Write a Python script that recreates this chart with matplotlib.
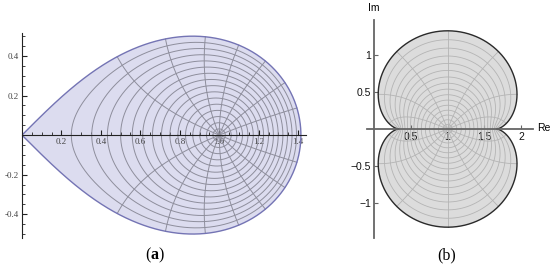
import numpy as np
import matplotlib
matplotlib.use("Agg")
import matplotlib.pyplot as plt

plt.rcParams["mathtext.fontset"] = "custom"
plt.rcParams["mathtext.rm"] = "Liberation Serif"
plt.rcParams["mathtext.bf"] = "Liberation Serif:bold"

# ---- data ----
mesh_radii = [1/16, 2/16, 3/16, 4/16, 5/16, 6/16, 7/16, 8/16,
              9/16, 10/16, 11/16, 12/16, 13/16, 14/16, 15/16]
mesh_angles_deg = [0, 22.5, 45, 67.5, 90, 112.5, 135, 157.5,
                   180, 202.5, 225, 247.5, 270, 292.5, 315, 337.5]
a_xticks = [0.2, 0.4, 0.6, 0.8, 1.0, 1.2, 1.4]
a_xtick_labels = ["0.2", "0.4", "0.6", "0.8", "1.0", "1.2", "1.4"]
a_yticks = [-0.4, -0.2, 0.2, 0.4]
a_ytick_labels = ["-0.4", "-0.2", "0.2", "0.4"]
b_xticks = [0.5, 1, 1.5, 2]
b_xtick_labels = ["0.5", "1", "1.5", "2"]
b_yticks = [-1, -0.5, 0.5, 1]
b_ytick_labels = ["\u22121", "\u22120.5", "0.5", "1"]


def f_lemniscate(z):
    return np.sqrt(1 + z)


def f_nephroid(z):
    return 1 + z - z**3 / 3


def draw_region(ax, f, fill, edge, mesh_color, mesh_lw, edge_lw):
    t = np.linspace(-np.pi, np.pi, 2001)
    b = f(np.exp(1j * t))
    ax.fill(b.real, b.imag, color=fill, zorder=1, lw=0)
    for r in mesh_radii:
        w = f(r * np.exp(1j * t))
        ax.plot(w.real, w.imag, color=mesh_color, lw=mesh_lw, zorder=2)
    rr = np.linspace(0, 1, 400)
    for a in mesh_angles_deg:
        w = f(rr * np.exp(1j * np.deg2rad(a)))
        ax.plot(w.real, w.imag, color=mesh_color, lw=mesh_lw, zorder=2)
    ax.plot(b.real, b.imag, color=edge, lw=edge_lw, zorder=3)


fig = plt.figure(figsize=(5.5, 2.67), dpi=100)

# ---- panel (a) ----
axa = fig.add_axes([22/550, 29/267, 284/550, 205/267])
draw_region(axa, f_lemniscate, "#dcdcef", "#7474b4", "#8e8e9c", 0.7, 1.0)
axa.set_xlim(0, 1.44)
axa.set_ylim(-0.52, 0.516)
for s in ["top", "right"]:
    axa.spines[s].set_visible(False)
axa.spines["left"].set_position(("data", 0))
axa.spines["bottom"].set_position(("data", 0))
axa.spines["left"].set_zorder(5)
axa.spines["bottom"].set_zorder(5)
axa.spines["left"].set_color("#222222")
axa.spines["bottom"].set_color("#222222")
axa.set_xticks(a_xticks)
axa.set_xticklabels(a_xtick_labels)
axa.set_yticks(a_yticks)
axa.set_yticklabels(a_ytick_labels)
axa.set_xticks(np.arange(0.05, 1.44, 0.05), minor=True)
axa.set_yticks(np.arange(-0.5, 0.52, 0.05), minor=True)
axa.tick_params(which="major", direction="in", length=3.5, width=0.8,
                labelsize=6.5, labelcolor="#444444", color="#222222", pad=2)
axa.tick_params(which="minor", direction="in", length=2, width=0.6,
                color="#222222")
for lab in axa.get_xticklabels() + axa.get_yticklabels():
    lab.set_family("Liberation Serif")
axa.patch.set_alpha(0)

# ---- panel (b) ----
axb = fig.add_axes([367/550, 29/267, 166/550, 218/267])
draw_region(axb, f_nephroid, "#dcdcdc", "#2a2a2a", "#b4b4b4", 0.6, 1.0)
axb.set_xlim(-0.095, 2.16)
axb.set_ylim(-1.48, 1.48)
for s in ["top", "right"]:
    axb.spines[s].set_visible(False)
axb.spines["left"].set_position(("data", 0))
axb.spines["bottom"].set_position(("data", 0))
axb.spines["left"].set_zorder(5)
axb.spines["bottom"].set_zorder(5)
axb.spines["left"].set_color("#666666")
axb.spines["bottom"].set_color("#666666")
axb.spines["left"].set_linewidth(1.3)
axb.spines["bottom"].set_linewidth(1.3)
axb.set_xticks(b_xticks)
axb.set_xticklabels(b_xtick_labels)
axb.set_yticks(b_yticks)
axb.set_yticklabels(b_ytick_labels)
axb.tick_params(which="major", direction="in", length=3, width=0.8,
                labelsize=7.5, labelcolor="#111111", color="#666666", pad=2)
for lab in axb.get_xticklabels() + axb.get_yticklabels():
    lab.set_family("Liberation Sans")
axb.patch.set_alpha(0)
axb.text(0.0, 1.64, "Im", ha="center", va="center", fontsize=7.5,
         family="Liberation Sans", clip_on=False)
axb.text(2.22, 0.02, "Re", ha="left", va="center", fontsize=7.5,
         family="Liberation Sans", clip_on=False)

# ---- captions ----
fig.text(155/550, 12/267, r"($\mathbf{a}$)", ha="center", va="center",
         fontsize=11.5, family="Liberation Serif")
fig.text(447/550, 12/267, "(b)", ha="center", va="center", fontsize=11.5,
         family="Liberation Serif")

fig.savefig("out.png", dpi=100)
